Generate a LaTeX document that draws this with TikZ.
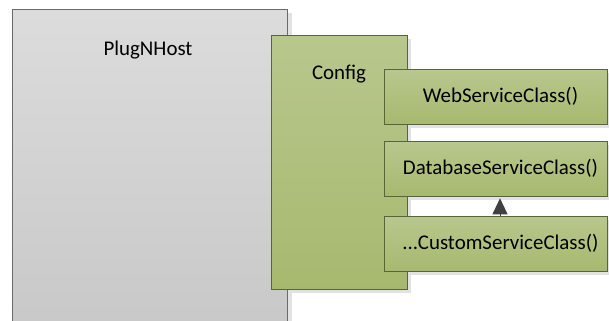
\documentclass[tikz,border=0pt]{standalone}
\usepackage{fontspec}
\setmainfont{Carlito}
\usetikzlibrary{arrows.meta}
\definecolor{hostTop}{HTML}{DCDCDC}
\definecolor{hostBot}{HTML}{C8C8C8}
\definecolor{greenTop}{HTML}{B8C78D}
\definecolor{greenBot}{HTML}{A7B96F}
\definecolor{greenLine}{HTML}{56663A}
\definecolor{hostLine}{HTML}{6A6A6A}
\definecolor{shade}{HTML}{E2E2E2}
\definecolor{arrowGray}{HTML}{404040}
\tikzset{
  box/.style={draw, line width=0.8bp, inner sep=0pt, anchor=north west},
  hostbox/.style={box, draw=hostLine, top color=hostTop, bottom color=hostBot},
  greenbox/.style={box, draw=greenLine, top color=greenTop, bottom color=greenBot},
  label/.style={font=\fontsize{21}{25}\selectfont, inner sep=0pt},
  boxshadow/.style={fill=shade, draw=none},
}
\begin{document}
\begin{tikzpicture}[x=1bp, y=-1bp]
\useasboundingbox (0,0) rectangle (609,320);
\begin{scope}
\clip (0,0) rectangle (609,320);
% drop shadows behind the boxes
\fill[boxshadow] (16,13) rectangle (292,330);
\fill[boxshadow] (275,39) rectangle (411,293);
\fill[boxshadow] (388,73) rectangle (613,128);
\fill[boxshadow] (388,145) rectangle (613,200);
\fill[boxshadow] (388,220) rectangle (613,275);
% host
\node[hostbox, minimum width=275bp, minimum height=320bp] (host) at (12,9) {};
\node[label] (hostlbl) at (148,50) {PlugNHost};
% config
\node[greenbox, minimum width=136bp, minimum height=254bp] (config) at (271,35) {};
\node[label] (configlbl) at (339,74) {Config};
% service classes
\node[greenbox, minimum width=223bp, minimum height=55bp] (web) at (384,69) {};
\node[greenbox, minimum width=223bp, minimum height=55bp] (db) at (384,141) {};
\node[greenbox, minimum width=223bp, minimum height=55bp] (custom) at (384,216) {};
\node[label] (weblbl) at (500.5,96.5) {WebServiceClass()};
\node[label] (dblbl) at (500.5,168.5) {DatabaseServiceClass()};
\node[label] (customlbl) at (500.5,243.5) {...CustomServiceClass()};
% dependency arrow
\draw[arrowGray, line width=1bp, shorten >=1.5bp, -{Triangle[length=16bp, width=15bp]}]
  (custom.north -| 500,0) -- (db.south -| 500,0);
\end{scope}
\end{tikzpicture}
\end{document}
